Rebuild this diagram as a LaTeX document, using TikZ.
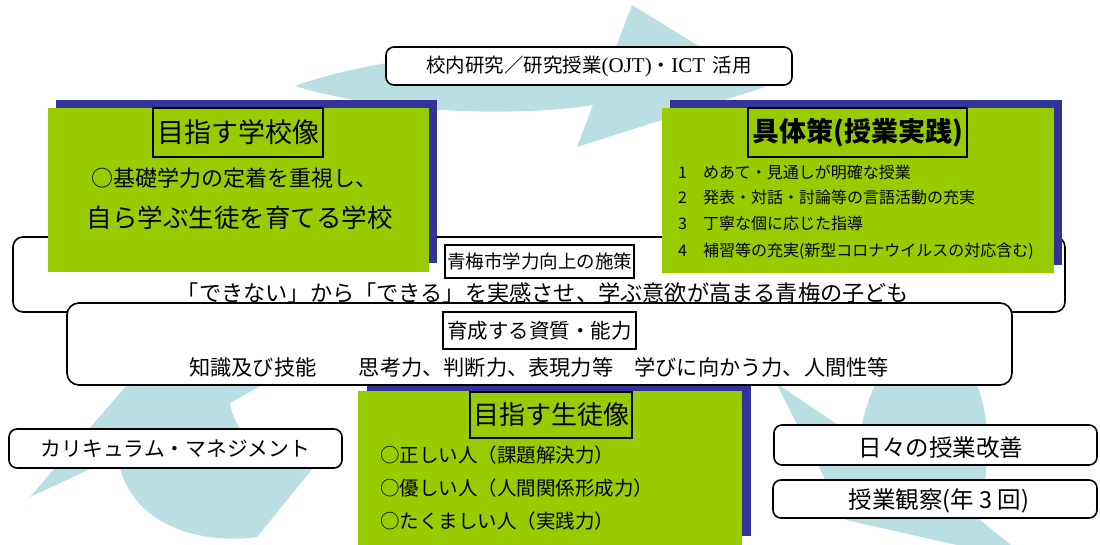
\documentclass[tikz,border=0pt]{standalone}
\usepackage{fontspec}
\setmainfont{Noto Sans CJK JP}
\newfontfamily\latserif{Liberation Serif}
\definecolor{arrowcyan}{RGB}{185,223,227}
\definecolor{leafgreen}{RGB}{153,204,0}
\definecolor{navyshadow}{RGB}{51,51,153}
\begin{document}
\begin{tikzpicture}[x=1pt,y=-1pt,
  bgarrow/.style={fill=arrowcyan},
  roundbox/.style={draw=black, line width=1.6pt, fill=white, rounded corners=8pt, inner sep=0pt},
  shadowrect/.style={fill=navyshadow, inner sep=0pt},
  greenrect/.style={fill=leafgreen, inner sep=0pt},
  titlebox/.style={draw=black, line width=1.8pt, inner sep=0pt},
  txt/.style={inner sep=0pt, text=black},
  fs/.style={font=\fontsize{#1}{#1}\selectfont}
]
\useasboundingbox (0,0) rectangle (1100,544);
\begin{scope}
\clip (0,0) rectangle (1100,544);
\fill[white] (0,0) rectangle (1100,544);

% background cycle arrows
\fill[bgarrow] (295,86) .. controls (360,62) and (480,45) .. (616,47) -- (632,5) -- (765,87) -- (577,147) -- (593,105) .. controls (510,118) and (380,112) .. (295,86) -- cycle;
\fill[bgarrow] (776,383) -- (846,520) -- (1032,562) -- (980,520) .. controls (985,480) and (995,430) .. (977,385) -- (962,200) -- (882,200) -- (875,385) .. controls (868,400) and (862,420) .. (859,439) -- cycle;
\fill[bgarrow] (30,497) -- (127,385) -- (150,330) -- (260,330) -- (262,385) -- (230,403) .. controls (232,415) and (236,425) .. (245,435) -- (330,447) -- (257,537) .. controls (200,545) and (135,525) .. (120,468) -- (148,442) -- cycle;

% top box
\node[roundbox, minimum width=406, minimum height=38, fs=19.5] (ojt) at (589,66) {校内研究／研究授業{\latserif\fontsize{21}{21}\selectfont (OJT)}・{\latserif\fontsize{21}{21}\selectfont ICT}\hspace{0.4em}活用};

% Ome outer box
\node[roundbox, rounded corners=10pt, minimum width=1052, minimum height=75] (omebox) at (539,274.5) {};

% left green block
\node[shadowrect, minimum width=381, minimum height=163] (lshadow) at (246.5,181.5) {};
\node[greenrect, minimum width=381, minimum height=164] (lgreen) at (238.5,190) {};
\node[titlebox, minimum width=170, minimum height=49, fs=27] (ltitle) at (238,132.5) {目指す学校像};
\node[txt, fs=22] (lline1) at (234.5,178) {○基礎学力の定着を重視し、};
\node[txt, fs=25.5] (lline2) at (239.5,218) {自ら学ぶ生徒を育てる学校};

% right green block
\node[shadowrect, minimum width=392, minimum height=165] (rshadow) at (866,182.5) {};
\node[greenrect, minimum width=392, minimum height=165] (rgreen) at (858,190.5) {};
\node[titlebox, minimum width=219, minimum height=49, fs=27] (rtitle) at (857.5,132.5) {\bfseries 具体策(授業実践)};
\node[txt, fs=16, anchor=west] (r1) at (678,172) {1　めあて・見通しが明確な授業};
\node[txt, fs=16, anchor=west] (r2) at (678,197) {2　発表・対話・討論等の言語活動の充実};
\node[txt, fs=16, anchor=west] (r3) at (678,223) {3　丁寧な個に応じた指導};
\node[txt, fs=16, anchor=west] (r4) at (678,251) {4　補習等の充実(新型コロナウイルスの対応含む)};

% Ome title and text
\node[titlebox, fill=white, minimum width=189, minimum height=33, fs=18.5] (sesaku) at (539.5,261.5) {青梅市学力向上の施策};
\node[txt, fs=22.2] (ometext) at (543,293) {「できない」から「できる」を実感させ、学ぶ意欲が高まる青梅の子ども};

% bottom green block (under capability box)
\node[shadowrect, minimum width=384, minimum height=156] (bshadow) at (559,458) {};
\node[greenrect, minimum width=384, minimum height=170] (bgreen) at (550,476) {};

% capability box
\node[roundbox, rounded corners=12pt, minimum width=945, minimum height=82] (capbox) at (539.5,344) {};
\node[titlebox, fill=white, minimum width=193, minimum height=37, fs=20.5] (captitle) at (539.5,330.5) {育成する資質・能力};
\node[txt, fs=21.2] (captext) at (539,367) {知識及び技能　　思考力、判断力、表現力等　学びに向かう力、人間性等};

% bottom block content
\node[titlebox, minimum width=162, minimum height=46, fs=26] (btitle) at (551,415) {目指す生徒像};
\node[txt, fs=19.5, anchor=west] (b1) at (380,455) {○正しい人（課題解決力）};
\node[txt, fs=19.5, anchor=west] (b2) at (380,488) {○優しい人（人間関係形成力）};
\node[txt, fs=19.5, anchor=west] (b3) at (380,521) {○たくましい人（実践力）};

% side boxes
\node[roundbox, minimum width=333, minimum height=39, fs=20.8] (curr) at (175.5,448.5) {カリキュラム・マネジメント};
\node[roundbox, minimum width=323, minimum height=40] (daily) at (935.5,445) {};
\node[txt, fs=23.5] (dailytxt) at (941,448) {日々の授業改善};
\node[roundbox, minimum width=324, minimum height=38] (obs) at (935,499) {};
\node[txt, fs=23.5] (obstxt) at (939,501) {授業観察(年 3 回)};
\end{scope}
\end{tikzpicture}
\end{document}
